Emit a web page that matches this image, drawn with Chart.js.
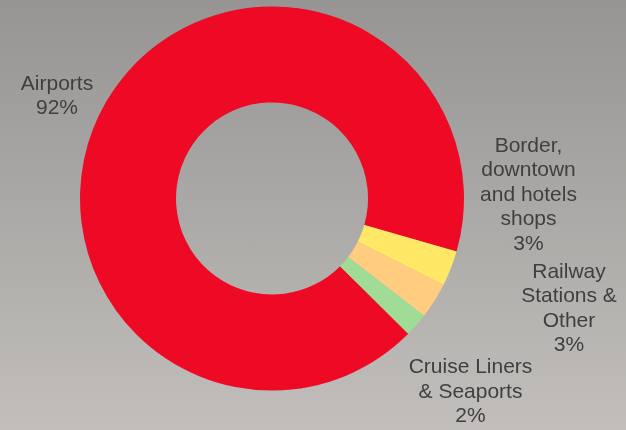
<!DOCTYPE html>
<html>
<head>
<meta charset="utf-8">
<script src="https://cdn.jsdelivr.net/npm/chart.js@4/dist/chart.umd.min.js"></script>
<style>
  html, body { margin: 0; padding: 0; }
  body { width: 626px; height: 430px; overflow: hidden;
         background: linear-gradient(to bottom, #969593 0%, #c1bebb 100%); }
  #wrap { width: 626px; height: 430px; }
</style>
</head>
<body>
<div id="wrap"><canvas id="c" width="626" height="430"></canvas></div>
<script>
// ---- data ----
const categories = [
  ["Airports"],
  ["Border,", "downtown", "and hotels", "shops"],
  ["Railway", "Stations &", "Other"],
  ["Cruise Liners", "& Seaports"]
];
const shares = [92, 3, 3, 2];
const sliceColors = ["#ee0a24", "#ffe866", "#ffcc80", "#a0dc96"];

// label placement (text centre x, first baseline y) relative to the doughnut centre
const labelOffsets = [
  [-215, -109],
  [256.5, -46.8],
  [297, 79.2],
  [198.5, 174.5]
];

const outsideLabels = {
  id: 'outsideLabels',
  afterDatasetsDraw(chart) {
    const ctx = chart.ctx;
    const meta = chart.getDatasetMeta(0);
    const cx = meta.data[0].x, cy = meta.data[0].y;
    ctx.save();
    ctx.font = '21px "Liberation Sans", Arial, sans-serif';
    ctx.fillStyle = '#3f3f3f';
    ctx.textAlign = 'center';
    ctx.textBaseline = 'alphabetic';
    const lh = 24.5;
    categories.forEach((lines, i) => {
      const all = lines.concat([shares[i] + '%']);
      const [dx, dy] = labelOffsets[i];
      all.forEach((t, j) => ctx.fillText(t, cx + dx, cy + dy + j * lh));
    });
    ctx.restore();
  }
};

new Chart(document.getElementById('c'), {
  type: 'doughnut',
  data: {
    labels: categories.map(l => l.join(' ')),
    datasets: [{
      data: shares,
      backgroundColor: sliceColors,
      borderWidth: 0,
      hoverOffset: 0
    }]
  },
  options: {
    responsive: false,
    animation: false,
    cutout: '50%',
    rotation: -225.2,
    layout: { padding: { top: 6.5, bottom: 39.5, left: 80, right: 162 } },
    plugins: { legend: { display: false }, tooltip: { enabled: false } }
  },
  plugins: [outsideLabels]
});
</script>
</body>
</html>
